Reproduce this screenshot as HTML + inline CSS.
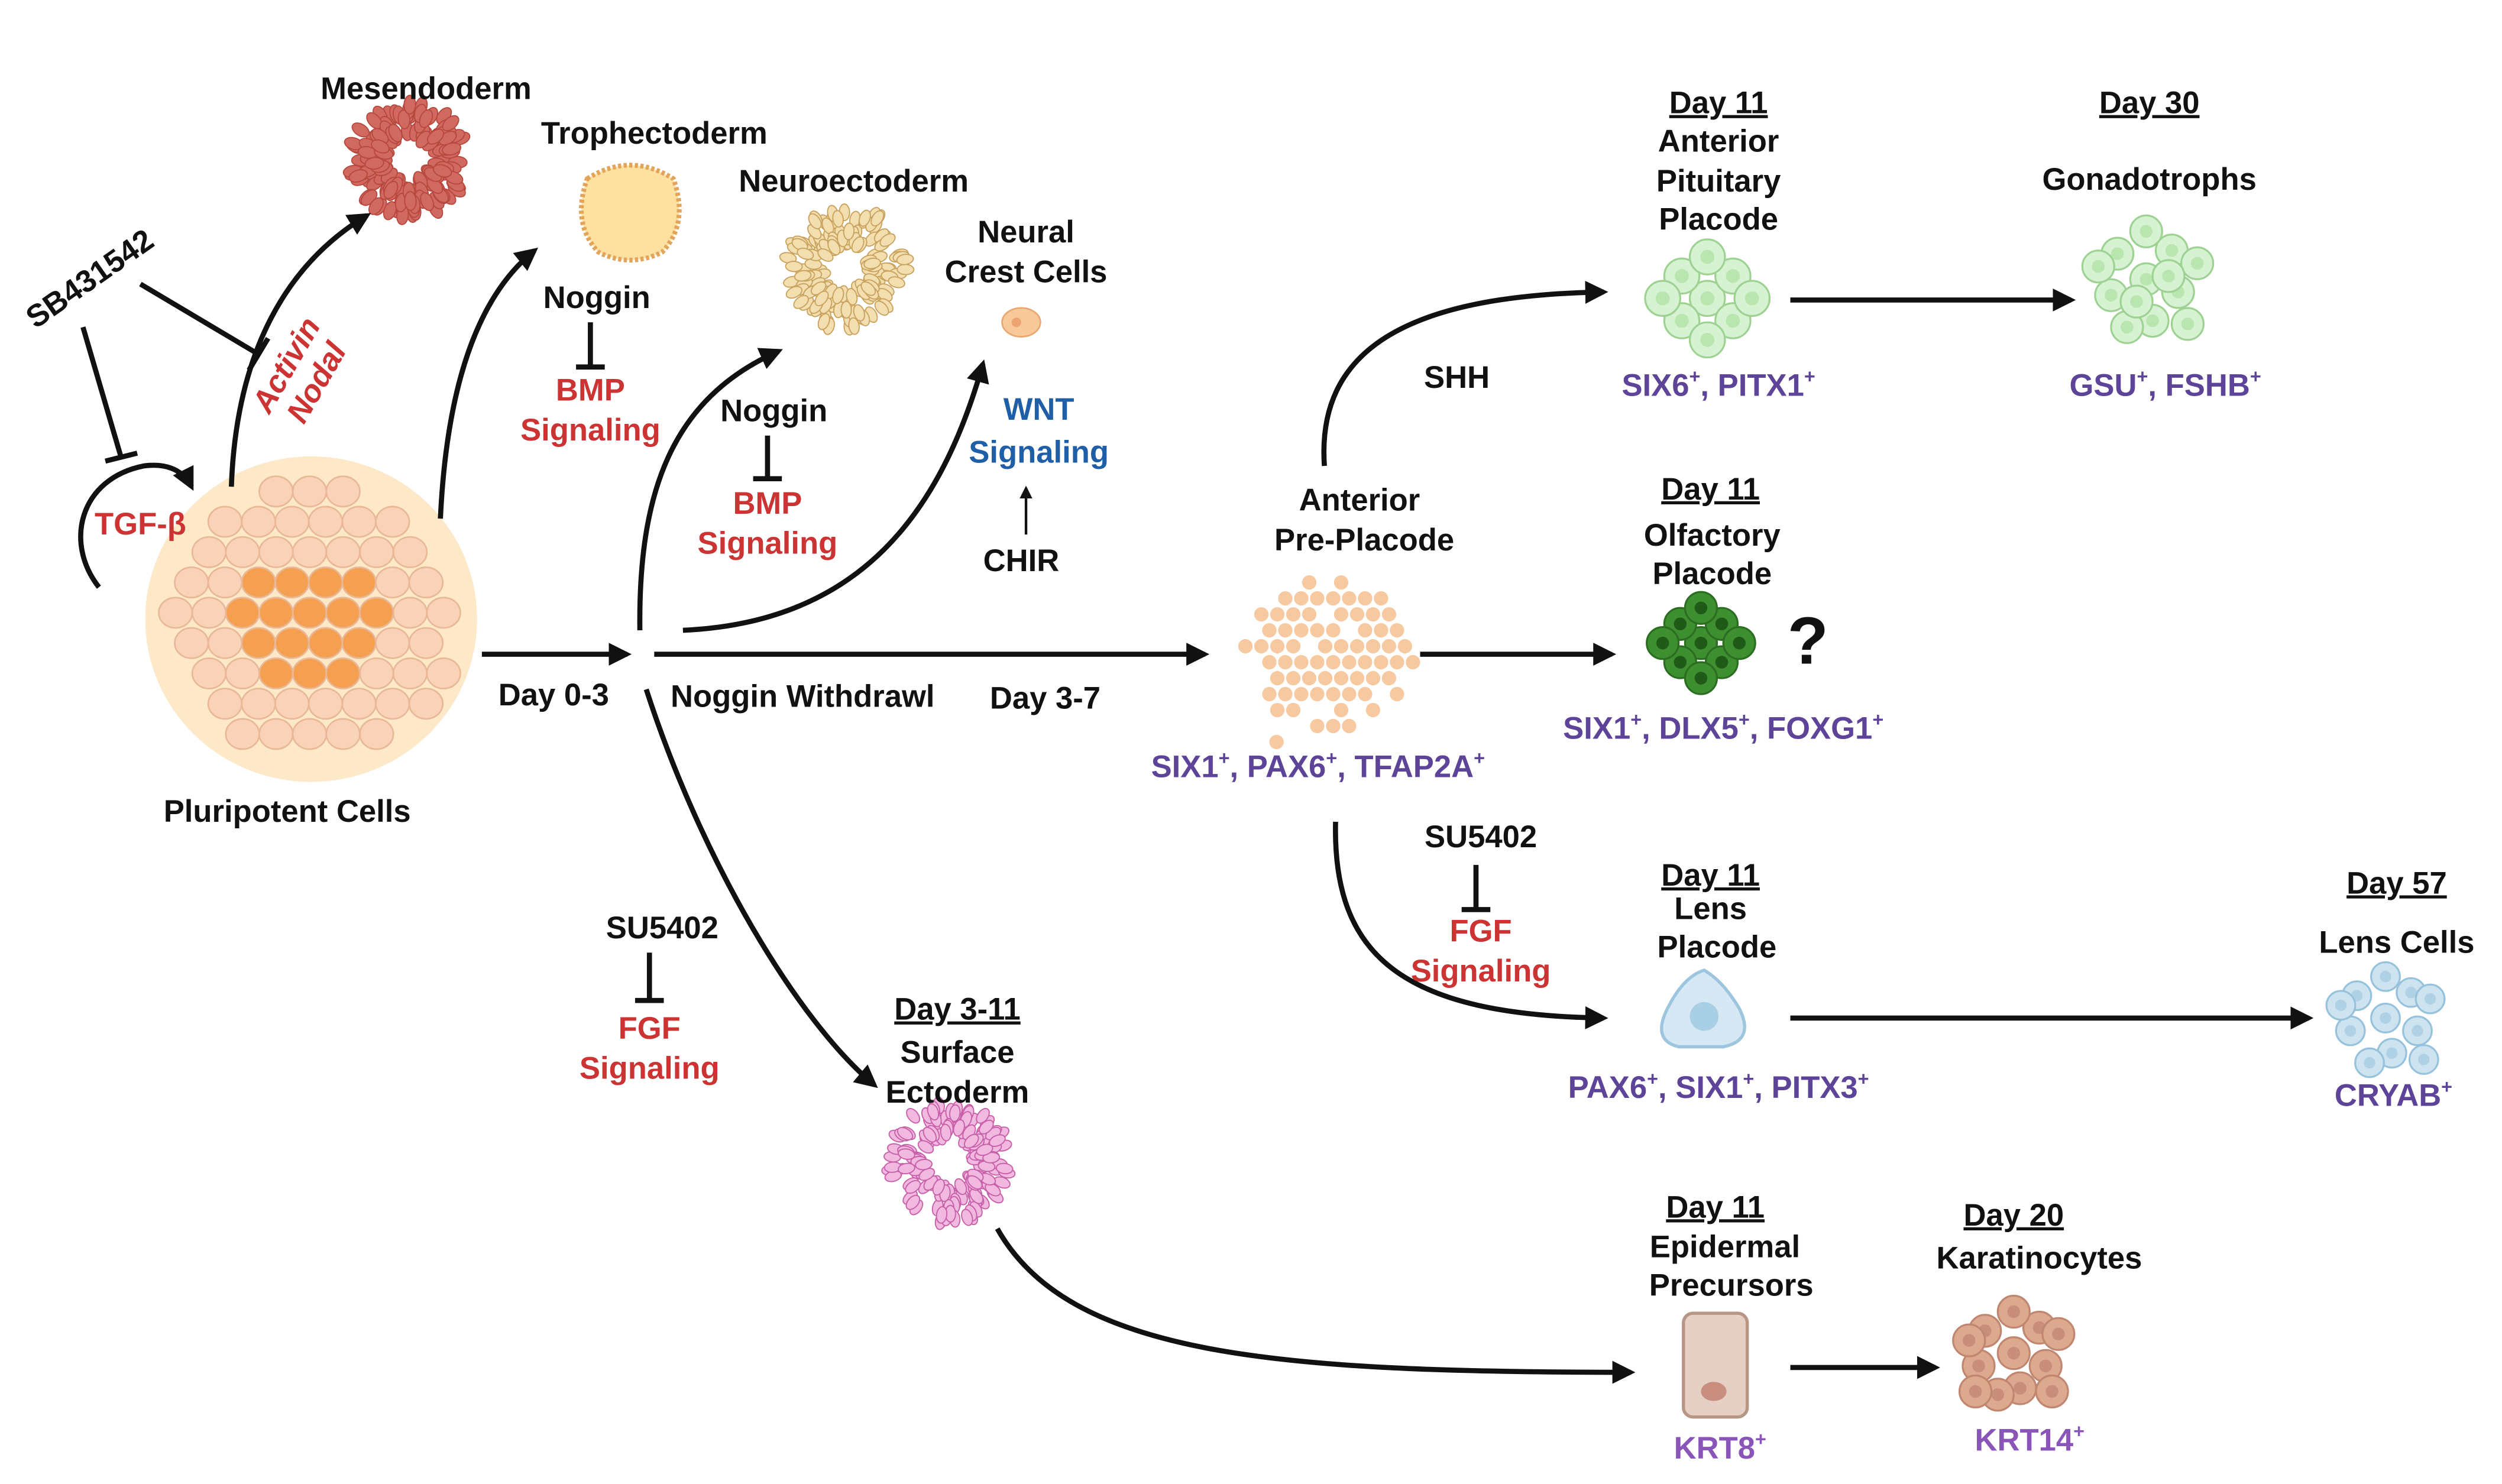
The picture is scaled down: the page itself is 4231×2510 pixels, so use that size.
<!DOCTYPE html>
<html><head><meta charset="utf-8"><style>
html,body{margin:0;padding:0;background:#fff;}
svg{display:block;}
text{font-family:"Liberation Sans",sans-serif;font-weight:bold;font-size:19.5px;text-anchor:middle;fill:#111;}
.r{fill:#cc3333;} .p{fill:#5e4498;} .b{fill:#1f5fa8;}
.u{text-decoration:underline;}
.ln{fill:none;stroke:#111;stroke-width:3.2;}
</style></head><body>
<svg id="s" width="4231" height="2510" viewBox="0 0 1568 930" preserveAspectRatio="none" xmlns="http://www.w3.org/2000/svg">
<defs>
<marker id="a" viewBox="0 0 10 10" refX="8" refY="5" markerWidth="4.5" markerHeight="4.5" orient="auto-start-reverse" markerUnits="strokeWidth"><path d="M0,0 L10,5 L0,10 z" fill="#111"/></marker>
<marker id="as" viewBox="0 0 10 10" refX="8" refY="5" markerWidth="5" markerHeight="5" orient="auto" markerUnits="strokeWidth"><path d="M0,0 L10,5 L0,10 z" fill="#111"/></marker>
</defs>
<rect width="1568" height="930" fill="#fff"/>
<g id="cells"></g>

<path class="ln" d="M145,305 C148,220 180,165 230,135" marker-end="url(#a)"/>
<path class="ln" d="M276,325 C280,240 300,185 335,157" marker-end="url(#a)"/>
<path class="ln" d="M302,410 L393,410" marker-end="url(#a)"/>
<path class="ln" d="M401,395 C400,310 420,250 488,220" marker-end="url(#a)"/>
<path class="ln" d="M428,395 C540,390 590,320 616,228" marker-end="url(#a)"/>
<path class="ln" d="M410,410 L755,410" marker-end="url(#a)"/>
<path class="ln" d="M405,432 C440,540 500,640 548,680" marker-end="url(#a)"/>
<path class="ln" d="M625,770 C670,850 800,860 1022,860" marker-end="url(#a)"/>
<path class="ln" d="M830,292 C825,220 880,185 1005,183" marker-end="url(#a)"/>
<path class="ln" d="M1122,188 L1298,188" marker-end="url(#a)"/>
<path class="ln" d="M890,410 L1010,410" marker-end="url(#a)"/>
<path class="ln" d="M837,515 C835,600 880,636 1005,638" marker-end="url(#a)"/>
<path class="ln" d="M1122,638 L1447,638" marker-end="url(#a)"/>
<path class="ln" d="M1122,857 L1213,857" marker-end="url(#a)"/>
<path d="M643,335 L643,306" stroke="#111" stroke-width="1.6" fill="none" marker-end="url(#as)"/>
<path class="ln" d="M370,202 L370,230 M361,230 L379,230" stroke-width="2.2"/>
<path class="ln" d="M481,273 L481,300 M472,300 L490,300" stroke-width="2.2"/>
<path class="ln" d="M407,597 L407,627 M398,627 L416,627" stroke-width="2.2"/>
<path class="ln" d="M925,542 L925,570 M916,570 L934,570" stroke-width="2.2"/>
<path class="ln" d="M52,205 L76,287 M66,289 L86,284"/>
<path class="ln" d="M88,178 L162,222 M156,232 L168,212"/>
<path class="ln" d="M62,368 C40,340 50,300 90,292 C105,290 115,295 120,305" marker-end="url(#a)"/>

<text x="267" y="62">Mesendoderm</text>
<text x="410" y="90">Trophectoderm</text>
<text x="535" y="120">Neuroectoderm</text>
<text x="643" y="152">Neural</text><text x="643" y="177">Crest Cells</text>
<text x="374" y="193">Noggin</text>
<text x="370" y="251" class="r">BMP</text><text x="370" y="276" class="r">Signaling</text>
<text x="485" y="264">Noggin</text>
<text x="481" y="322" class="r">BMP</text><text x="481" y="347" class="r">Signaling</text>
<text x="651" y="263" class="b">WNT</text><text x="651" y="290" class="b">Signaling</text>
<text x="640" y="358">CHIR</text>
<text x="60" y="180" transform="rotate(-35 60 180)">SB431542</text>
<text x="185" y="232" class="r" transform="rotate(-60 185 232)" style="font-style:italic">Activin</text>
<text x="204" y="243" class="r" transform="rotate(-60 204 243)" style="font-style:italic">Nodal</text>
<text x="88" y="335" class="r">TGF-β</text>
<text x="180" y="515">Pluripotent Cells</text>
<text x="347" y="442">Day 0-3</text>
<text x="503" y="443">Noggin Withdrawl</text>
<text x="655" y="444">Day 3-7</text>
<text x="415" y="588">SU5402</text>
<text x="407" y="651" class="r">FGF</text><text x="407" y="676" class="r">Signaling</text>
<text x="600" y="639" class="u">Day 3-11</text>
<text x="600" y="666">Surface</text><text x="600" y="691">Ectoderm</text>
<text x="852" y="320">Anterior</text><text x="855" y="345">Pre-Placode</text>
<text x="826" y="487" class="p">SIX1<tspan font-size="12" dy="-8">+</tspan><tspan dy="8">, PAX6</tspan><tspan font-size="12" dy="-8">+</tspan><tspan dy="8">, TFAP2A</tspan><tspan font-size="12" dy="-8">+</tspan></text>
<text x="913" y="243">SHH</text>
<text x="1077" y="71" class="u">Day 11</text>
<text x="1077" y="95">Anterior</text><text x="1077" y="120">Pituitary</text><text x="1077" y="144">Placode</text>
<text x="1077" y="248" class="p">SIX6<tspan font-size="12" dy="-8">+</tspan><tspan dy="8">, PITX1</tspan><tspan font-size="12" dy="-8">+</tspan></text>
<text x="1347" y="71" class="u">Day 30</text>
<text x="1347" y="119">Gonadotrophs</text>
<text x="1357" y="248" class="p">GSU<tspan font-size="12" dy="-8">+</tspan><tspan dy="8">, FSHB</tspan><tspan font-size="12" dy="-8">+</tspan></text>
<text x="1072" y="313" class="u">Day 11</text>
<text x="1073" y="342">Olfactory</text><text x="1073" y="366">Placode</text>
<text x="1133" y="416" style="font-size:42px">?</text>
<text x="1080" y="463" class="p">SIX1<tspan font-size="12" dy="-8">+</tspan><tspan dy="8">, DLX5</tspan><tspan font-size="12" dy="-8">+</tspan><tspan dy="8">, FOXG1</tspan><tspan font-size="12" dy="-8">+</tspan></text>
<text x="928" y="531">SU5402</text>
<text x="928" y="590" class="r">FGF</text><text x="928" y="615" class="r">Signaling</text>
<text x="1072" y="555" class="u">Day 11</text>
<text x="1072" y="576">Lens</text><text x="1076" y="600">Placode</text>
<text x="1077" y="688" class="p">PAX6<tspan font-size="12" dy="-8">+</tspan><tspan dy="8">, SIX1</tspan><tspan font-size="12" dy="-8">+</tspan><tspan dy="8">, PITX3</tspan><tspan font-size="12" dy="-8">+</tspan></text>
<text x="1502" y="560" class="u">Day 57</text>
<text x="1502" y="597">Lens Cells</text>
<text x="1500" y="693" class="p">CRYAB<tspan font-size="12" dy="-8">+</tspan></text>
<text x="1075" y="763" class="u">Day 11</text>
<text x="1081" y="788">Epidermal</text><text x="1085" y="812">Precursors</text>
<text x="1078" y="914" class="p" style="fill:#8a55b8">KRT8<tspan font-size="12" dy="-8">+</tspan></text>
<text x="1262" y="768" class="u">Day 20</text>
<text x="1278" y="795">Karatinocytes</text>
<text x="1272" y="909" class="p" style="fill:#8a55b8">KRT14<tspan font-size="12" dy="-8">+</tspan></text>
</svg>
<script>
var g=document.getElementById('cells'),NS='http://www.w3.org/2000/svg';
function el(t,a){var e=document.createElementNS(NS,t);for(var k in a)e.setAttribute(k,a[k]);g.appendChild(e);return e;}
var seed=7;function rnd(){seed=(seed*9301+49297)%233280;return seed/233280;}
function ring(cx,cy,R,r0,n,fill,stroke,cr){for(var i=0;i<n;i++){var a=rnd()*6.283,d=r0+rnd()*(R-r0);var x=cx+d*Math.cos(a),y=cy+d*Math.sin(a);el('ellipse',{cx:x,cy:y,rx:cr*0.8,ry:cr*1.3,fill:fill,stroke:stroke,'stroke-width':0.7,transform:'rotate('+(a*57.3+90)+' '+x+' '+y+')'});}}
function blob(cx,cy,pts,r,fill,stroke,inner){pts.forEach(function(p){el('circle',{cx:cx+p[0],cy:cy+p[1],r:r,fill:fill,stroke:stroke,'stroke-width':1.2});if(inner)el('circle',{cx:cx+p[0],cy:cy+p[1],r:r*0.4,fill:inner});});}
el('ellipse',{cx:195,cy:388,rx:104,ry:102,fill:'#fde8c8'});
for(var y=308;y<=470;y+=19)for(var x=110;x<=285;x+=21){var ox=((Math.round(y/19))%2)*10;var dx=(x+ox-195)/92,dy=(y-388)/88;if(dx*dx+dy*dy>1)continue;var c=(dx*dx*0.8+dy*dy<0.2)?'#f4a050':'#f9d2b8';el('ellipse',{cx:x+ox,cy:y,rx:10.5,ry:9.5,fill:c,stroke:'#e8b898','stroke-width':1});}
ring(256,100,36,15,160,'#d06a60','#b8483e',4.5);
el('path',{d:'M368,112 Q395,95 422,112 Q432,140 415,158 Q395,168 375,158 Q358,140 368,112z',fill:'#fde1a0',stroke:'#e2a35a','stroke-width':3,'stroke-dasharray':'2 1.5'});
ring(530,168,38,15,160,'#f3deb0','#c9a35e',4);
el('ellipse',{cx:640,cy:202,rx:12,ry:9,fill:'#f7c89a',stroke:'#e9a870'});
el('circle',{cx:637,cy:202,r:3,fill:'#eea46e'});
for(var y=365;y<=455;y+=10)for(var x=778;x<=878;x+=10){var dx=(x-828)/50,dy=(y-410)/45;if(dx*dx+dy*dy>1.1||rnd()<0.15)continue;el('circle',{cx:x+((y/10)%2)*5,cy:y,r:4.5,fill:'#f7c9a0'});}
el('circle',{cx:800,cy:465,r:4.5,fill:'#f7c9a0'});
ring(595,728,38,16,150,'#f1b8e0','#c760a8',4);
var hex=[[0,0],[-16,-14],[16,-14],[-16,14],[16,14],[0,-26],[0,26],[-28,0],[28,0]];
blob(1070,187,hex,11,'#d7f2d2','#9ed293','#b8e6ae');
blob(1345,175,[[0,0],[-18,-16],[16,-18],[-22,10],[20,8],[0,-30],[4,26],[-30,-8],[32,-10],[-12,30],[26,28],[-6,14],[14,-2]],10,'#d7f2d2','#9ed293','#b8e6ae');
blob(1066,403,[[0,0],[-13,-12],[13,-12],[-13,12],[13,12],[0,-22],[0,22],[-24,0],[24,0]],10,'#3d8f30','#2b6e22','#1f5a18');
blob(1495,638,[[0,0],[-18,-14],[16,-16],[-22,8],[20,8],[0,-26],[4,22],[-28,-8],[28,-12],[-10,28],[24,26]],9,'#cde3ef','#97c2dc','#aed1e6');
el('path',{d:'M1068,608 Q1080,615 1090,632 Q1100,652 1080,656 L1052,656 Q1035,652 1045,632 Q1055,612 1068,608z',fill:'#d5e8f3',stroke:'#9ec5de','stroke-width':2});
el('circle',{cx:1068,cy:637,r:9,fill:'#a9cfe6'});
el('rect',{x:1055,y:823,width:40,height:65,rx:6,fill:'#e6cfc4',stroke:'#b89686','stroke-width':2});
el('ellipse',{cx:1074,cy:872,rx:8,ry:6,fill:'#c98e80'});
blob(1262,848,[[0,0],[-18,-14],[16,-16],[-22,8],[20,8],[0,-26],[4,22],[-28,-8],[28,-12],[-10,26],[24,24],[-24,24]],10,'#dca88f','#c08670','#c98e7a');
</script>
</body></html>
